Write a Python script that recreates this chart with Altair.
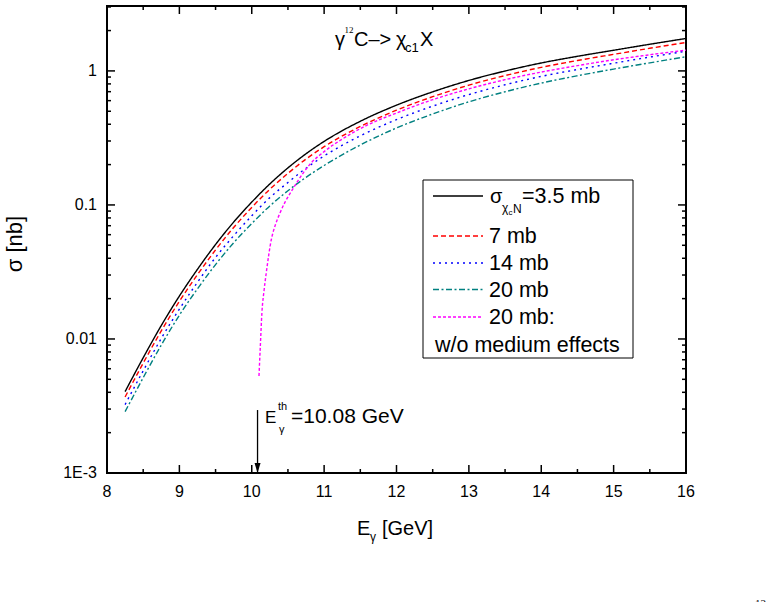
import altair as alt
import pandas as pd

# Photon energy grid [GeV] and cross sections [nb] for gamma 12C -> chi_c1 X
energy = [8.25, 8.5, 8.75, 9.0, 9.25, 9.5, 9.75, 10.0, 10.25, 10.5, 10.75, 11.0,
          11.5, 12.0, 12.5, 13.0, 13.5, 14.0, 14.5, 15.0, 15.5, 16.0]
sigma_35 = [0.00405, 0.00724, 0.0126, 0.0209, 0.0331, 0.0507, 0.0745, 0.105, 0.1435,
            0.189, 0.241, 0.298, 0.421, 0.555, 0.698, 0.849, 0.998, 1.146, 1.285,
            1.426, 1.581, 1.746]
sigma_7 = [0.00369, 0.00660, 0.0115, 0.0191, 0.0302, 0.0462, 0.0679, 0.0958, 0.131,
           0.172, 0.220, 0.272, 0.385, 0.509, 0.642, 0.783, 0.923, 1.063, 1.195,
           1.329, 1.475, 1.629]
sigma_14 = [0.00324, 0.00579, 0.0101, 0.0167, 0.0265, 0.0406, 0.0589, 0.0830, 0.1134,
            0.147, 0.188, 0.232, 0.328, 0.433, 0.546, 0.666, 0.788, 0.910, 1.024,
            1.141, 1.268, 1.404]
sigma_20 = [0.00287, 0.00514, 0.00901, 0.01505, 0.02367, 0.0359, 0.0522, 0.0727,
            0.0983, 0.1276, 0.1607, 0.197, 0.280, 0.375, 0.477, 0.588, 0.699, 0.811,
            0.920, 1.032, 1.149, 1.275]
# 20 mb without medium effects (starts at the free threshold)
energy_free = [10.10, 10.12, 10.14, 10.17, 10.20, 10.27, 10.33, 10.39, 10.46, 10.53,
               10.64, 10.80, 11.0, 11.25, 11.6, 12.0, 12.5, 13.0, 13.5, 14.0, 14.5,
               15.0, 15.5, 16.0]
sigma_free = [0.0053, 0.0092, 0.0156, 0.023, 0.031, 0.055, 0.072, 0.087, 0.105, 0.122,
              0.152, 0.200, 0.250, 0.310, 0.395, 0.485, 0.610, 0.735, 0.860, 0.980,
              1.095, 1.210, 1.320, 1.430]

threshold = 10.08
x_major = [8, 9, 10, 11, 12, 13, 14, 15, 16]
x_labels = ["8", "9", "10", "11", "12", "13", "14", "15", "16"]
x_minor = [8.5, 9.5, 10.5, 11.5, 12.5, 13.5, 14.5, 15.5]
y_major = [0.001, 0.01, 0.1, 1]
y_labels = ["1E-3", "0.01", "0.1", "1"]
y_minor = [0.002, 0.003, 0.004, 0.005, 0.006, 0.007, 0.008, 0.009,
           0.02, 0.03, 0.04, 0.05, 0.06, 0.07, 0.08, 0.09,
           0.2, 0.3, 0.4, 0.5, 0.6, 0.7, 0.8, 0.9, 2, 3]

series = ["3.5 mb", "7 mb", "14 mb", "20 mb", "20 mb free"]
colors = ["#000000", "#FF0000", "#0000FF", "#008080", "#FF00FF"]
dashes = [[1, 0], [5, 3], [2, 4], [6, 2.5, 2, 2.5], [3, 2]]

rows = []
for name, ys in zip(series[:4], [sigma_35, sigma_7, sigma_14, sigma_20]):
    rows += [{"E": e, "sigma": s, "series": name} for e, s in zip(energy, ys)]
rows += [{"E": e, "sigma": s, "series": series[4]} for e, s in zip(energy_free, sigma_free)]
curves = pd.DataFrame(rows)

W, H = 579, 467          # plot area
PX0, PY0 = 107, 6        # plot area origin on the page
FONT = "Liberation Sans"

xscale = alt.Scale(domain=[8, 16], nice=False, zero=False)
yscale = alt.Scale(type="log", domain=[0.001, 3.05], nice=False)
color_scale = alt.Scale(domain=series, range=colors)
dash_scale = alt.Scale(domain=series, range=dashes)

lines = alt.Chart(curves).mark_line(strokeWidth=1.4, interpolate="monotone").encode(
    x=alt.X("E:Q", scale=xscale, axis=None),
    y=alt.Y("sigma:Q", scale=yscale, axis=None),
    color=alt.Color("series:N", scale=color_scale, legend=None),
    strokeDash=alt.StrokeDash("series:N", scale=dash_scale, legend=None),
    detail="series:N",
)


def xticks(vals, length, top):
    df = pd.DataFrame({"v": vals})
    y0 = 0 if top else H
    y1 = length if top else H - length
    return alt.Chart(df).mark_rule(color="black", strokeWidth=1.5).encode(
        x=alt.X("v:Q", scale=xscale, axis=None), y=alt.value(y0), y2=alt.value(y1))


def yticks(vals, length, right):
    df = pd.DataFrame({"v": vals})
    x0 = W if right else 0
    x1 = W - length if right else length
    return alt.Chart(df).mark_rule(color="black", strokeWidth=1.5).encode(
        y=alt.Y("v:Q", scale=yscale, axis=None), x=alt.value(x0), x2=alt.value(x1))


ticks = [xticks(x_major, 8, False), xticks(x_major, 8, True),
         xticks(x_minor, 4, False), xticks(x_minor, 4, True),
         yticks(y_major, 8, False), yticks(y_major, 8, True),
         yticks(y_minor, 4, False), yticks(y_minor, 4, True)]

# tick labels placed through the same scales
x_tick_labels = alt.Chart(pd.DataFrame({"v": x_major, "t": x_labels})).mark_text(
    font=FONT, fontSize=16, align="center", baseline="alphabetic", color="black").encode(
    x=alt.X("v:Q", scale=xscale, axis=None), y=alt.value(H + 24), text="t:N")
y_tick_labels = alt.Chart(pd.DataFrame({"v": y_major, "t": y_labels})).mark_text(
    font=FONT, fontSize=16, align="right", baseline="middle", color="black").encode(
    y=alt.Y("v:Q", scale=yscale, axis=None), x=alt.value(-10), text="t:N")


def label(text, x, y, size, align="left", font=FONT, angle=0, baseline="alphabetic"):
    df = pd.DataFrame({"t": [text]})
    kw = dict(fontSize=size, font=font, align=align, baseline=baseline, color="black")
    if angle:
        kw["angle"] = angle
    return alt.Chart(df).mark_text(**kw).encode(
        text="t:N", x=alt.value(x - PX0), y=alt.value(y - PY0))


texts = [
    # reaction
    label("γ", 335, 46, 20),
    label("12", 344.5, 33, 9, font="Liberation Serif"),
    label("C–>", 354, 46, 20),
    label("χ", 396, 46, 20),
    label("c1", 405, 52, 13),
    label("X", 420, 46, 20),
    # threshold
    label("E", 265, 423, 17),
    label("th", 278, 410, 11),
    label("γ", 279, 433, 11),
    label("=10.08 GeV", 291, 423, 21),
    # axis titles
    label("E", 357, 535, 20),
    label("γ", 370, 541, 12),
    label("[GeV]", 382, 535, 20),
    label("σ [nb]", 15, 244, 22, align="center", angle=270, baseline="middle"),
    # legend labels
    label("σ", 490, 203, 20),
    label("χ", 502, 212, 12),
    label("c", 508.5, 215, 8),
    label("N", 513, 213, 12),
    label("=3.5 mb", 522, 203, 21.5),
    label("7 mb", 489, 243, 21.5),
    label("14 mb", 489, 270, 21.5),
    label("20 mb", 489, 297, 21.5),
    label("20 mb:", 489, 324, 21.5),
    label("w/o medium effects", 435, 352, 21.5),
    label("12", 755, 607, 11, font="Liberation Serif"),
]

legend_box = alt.Chart(pd.DataFrame({"k": [0]})).mark_rect(
    fill="white", stroke="black", strokeWidth=1).encode(
    x=alt.value(423 - PX0), x2=alt.value(633 - PX0),
    y=alt.value(180 - PY0), y2=alt.value(358 - PY0))

# one sample line per legend row
legend_y = [196, 236, 263, 289.5, 317]
legend_lines = []
for name, col, dash, ly in zip(series, colors, dashes, legend_y):
    legend_lines.append(
        alt.Chart(pd.DataFrame({"series": [name]})).mark_rule(
            strokeWidth=1.4, color=col, strokeDash=dash).encode(
            x=alt.value(433 - PX0), x2=alt.value(483 - PX0), y=alt.value(ly - PY0)))

arrow_df = pd.DataFrame({"E": [threshold], "top": [0.00295], "bottom": [0.001]})
arrow_line = alt.Chart(arrow_df).mark_rule(color="black", strokeWidth=1.3).encode(
    x=alt.X("E:Q", scale=xscale, axis=None),
    y=alt.Y("top:Q", scale=yscale, axis=None), y2="bottom:Q")
arrow_head = alt.Chart(arrow_df).mark_point(
    shape="M-0.6,-1L0.6,-1L0,1Z", filled=True, color="black", opacity=1, size=100).encode(
    x=alt.X("E:Q", scale=xscale, axis=None), y=alt.value(H - 5))

chart = alt.layer(
    lines, *ticks, x_tick_labels, y_tick_labels, arrow_line, arrow_head,
    legend_box, *legend_lines, *texts
).properties(
    width=W, height=H,
    autosize=alt.AutoSizeParams(type="none"),
    padding={"left": PX0, "top": PY0, "right": 776 - PX0 - W, "bottom": 602 - PY0 - H},
    background="white",
).configure_view(stroke="black", strokeWidth=2)

chart.save("out.html", embed_options={"renderer": "svg", "actions": False})
